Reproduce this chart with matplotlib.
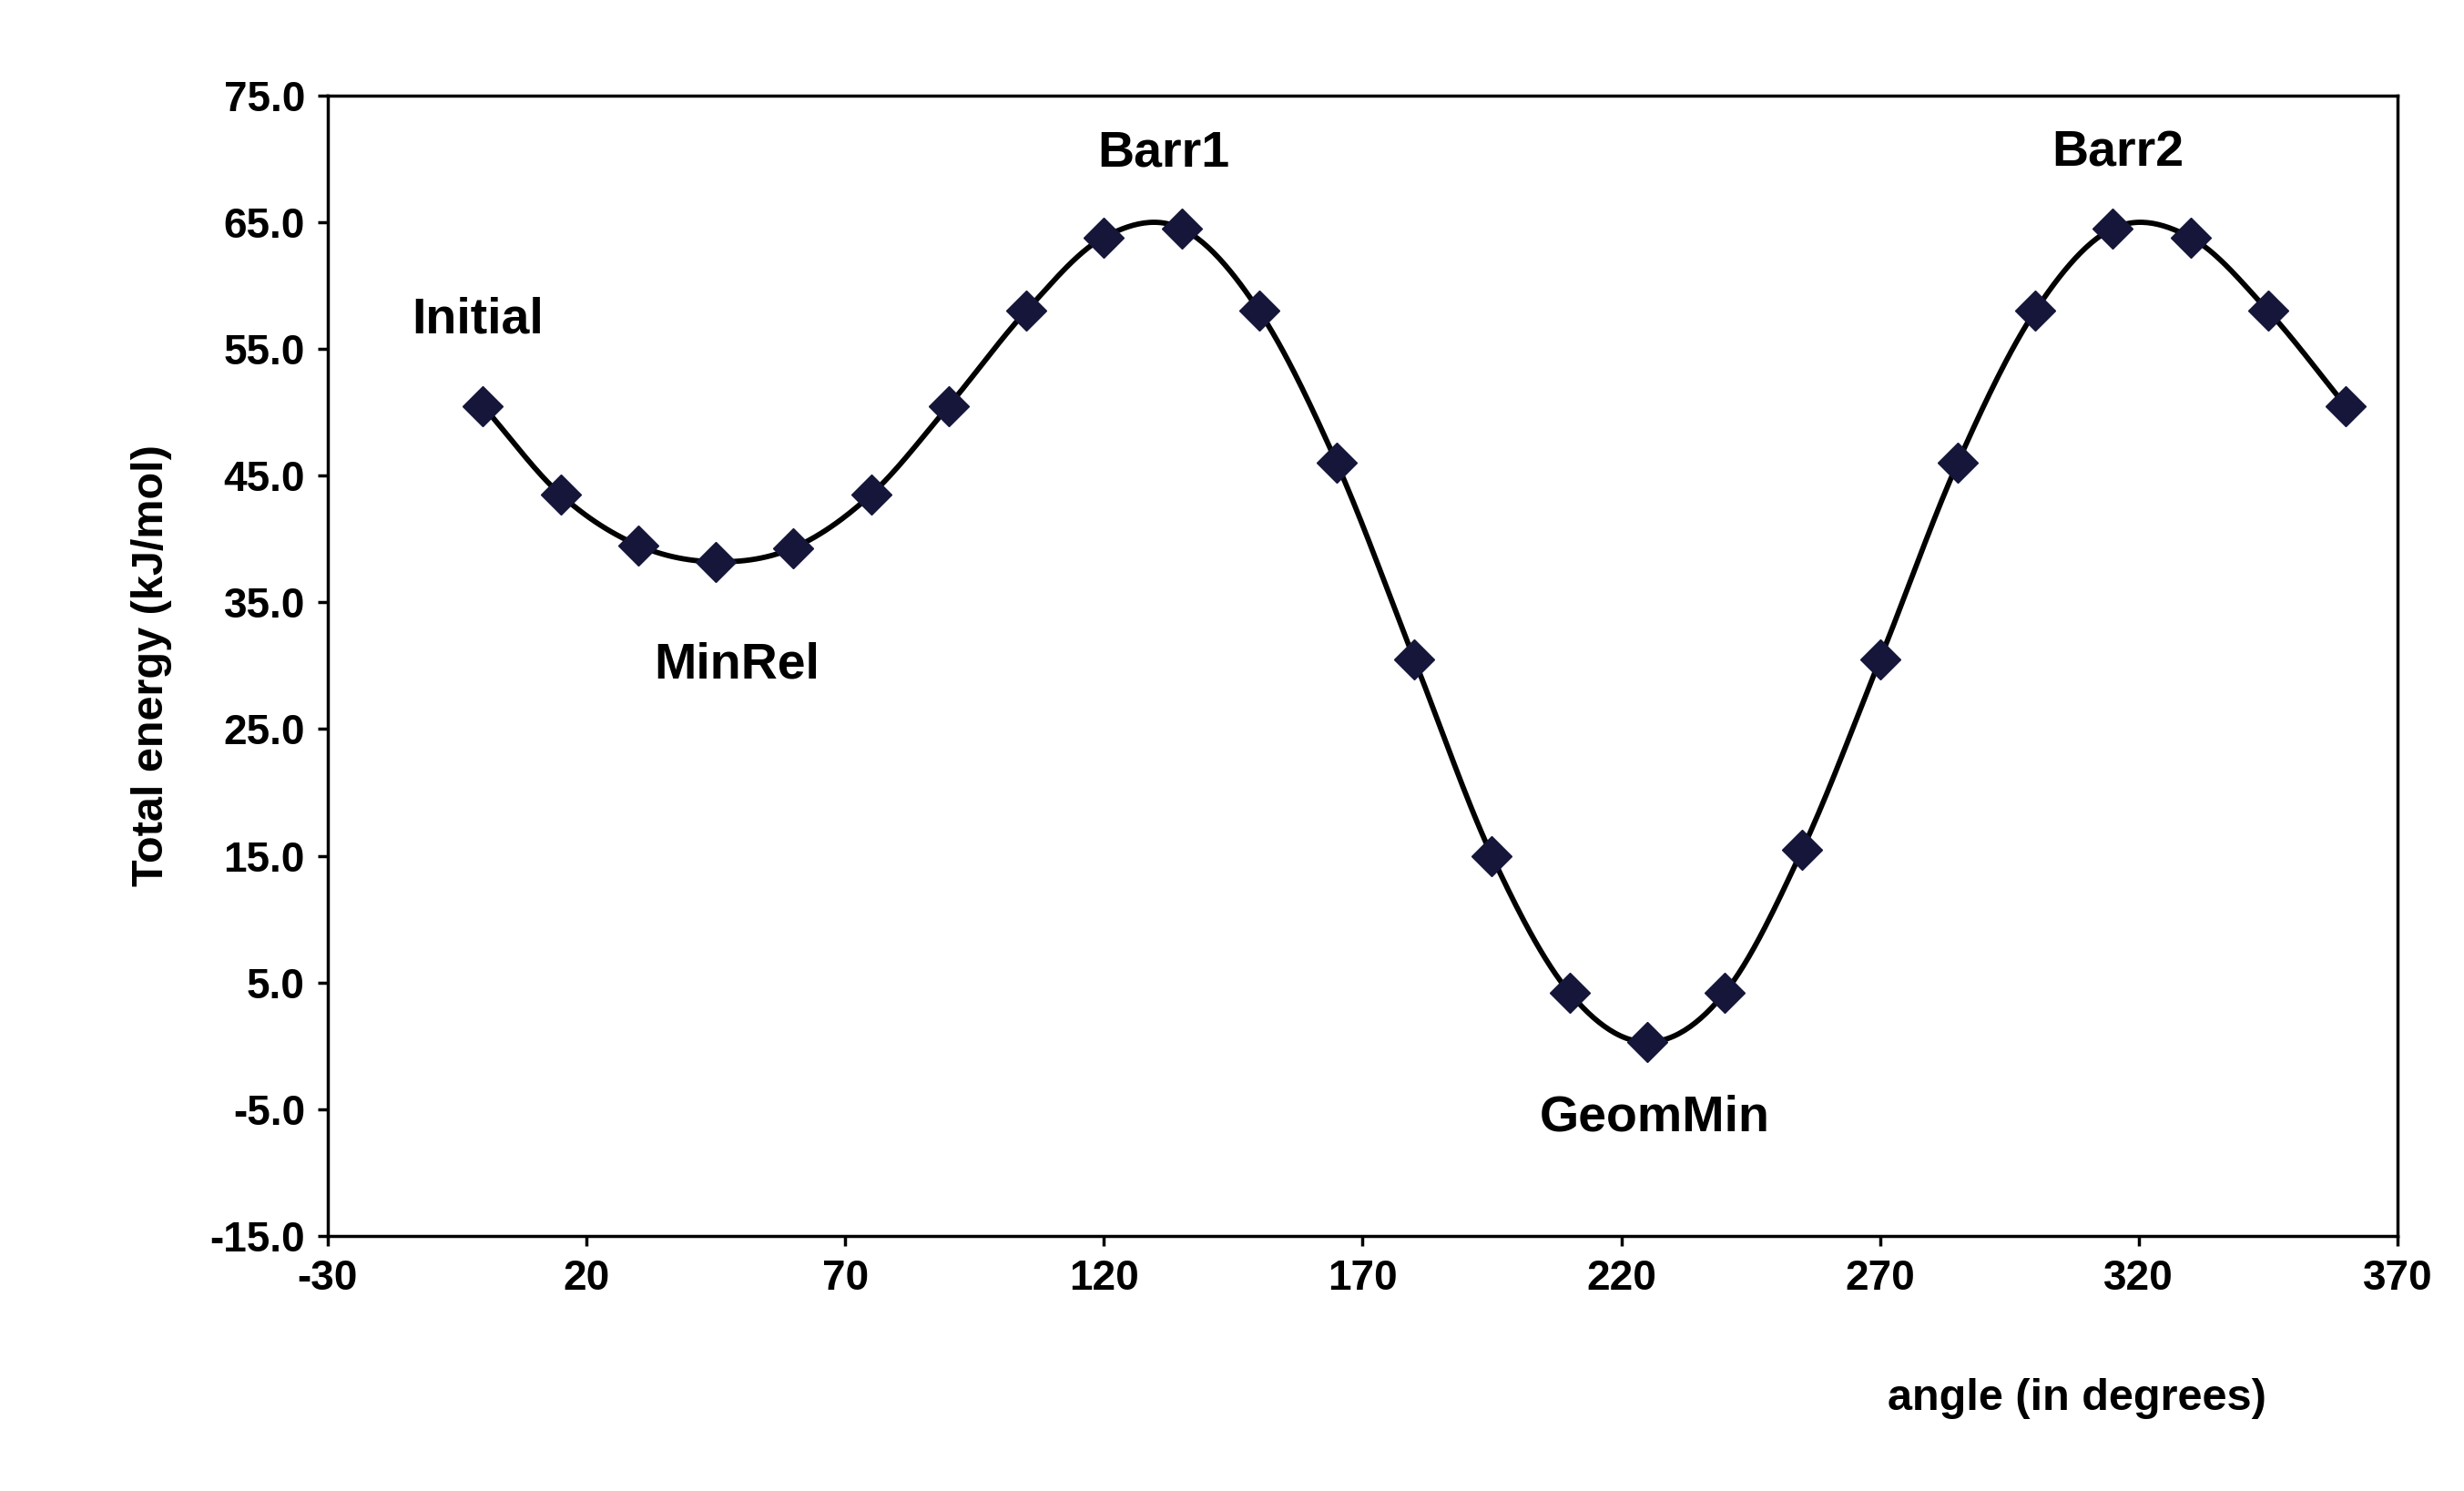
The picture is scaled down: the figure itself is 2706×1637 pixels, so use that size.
import numpy as np
import matplotlib
matplotlib.use("Agg")
import matplotlib.pyplot as plt

angles = [0, 15, 30, 45, 60, 75, 90, 105, 120, 135, 150, 165, 180, 195, 210, 225,
          240, 255, 270, 285, 300, 315, 330, 345, 360]
energy = [50.5, 43.5, 39.5, 38.2, 39.3, 43.5, 50.5, 58.0, 63.8, 64.5, 58.0, 46.0,
          30.5, 15.0, 4.2, 0.3, 4.2, 15.5, 30.5, 46.0, 58.0, 64.5, 63.8, 58.0, 50.5]
labels = ["Initial", "Barr1", "MinRel", "GeomMin", "Barr2"]
label_x = [-1, 131.5, 49, 226.5, 316]
label_y = [57.3, 70.4, 30.0, -5.7, 70.4]
xticks = list(range(-30, 371, 50))
yticks = list(range(-15, 76, 10))

plt.rcParams['font.family'] = ['Liberation Sans', 'DejaVu Sans']
plt.rcParams['font.weight'] = 'bold'

fig = plt.figure(figsize=(27.06, 16.37), dpi=100)
ax = fig.add_axes([0.133, 0.171, 0.840, 0.765])

# Catmull-Rom smoothing for the connecting line
x = np.array(angles, float); y = np.array(energy, float)
px = np.concatenate([[2*x[0]-x[1]], x, [2*x[-1]-x[-2]]])
py = np.concatenate([[2*y[0]-y[1]], y, [2*y[-1]-y[-2]]])
t = np.linspace(0, 1, 30)
sx, sy = [], []
for i in range(1, len(px)-2):
    for arr, out in ((px, sx), (py, sy)):
        p0, p1, p2, p3 = arr[i-1], arr[i], arr[i+1], arr[i+2]
        out.extend(0.5*((2*p1) + (-p0+p2)*t + (2*p0-5*p1+4*p2-p3)*t**2 + (-p0+3*p1-3*p2+p3)*t**3))
ax.plot(sx, sy, color='black', lw=4.2, zorder=2)
ax.plot(x, y, 'D', color='#15163a', markersize=22, zorder=3)

for l, lx, ly in zip(labels, label_x, label_y):
    ax.text(lx, ly, l, fontsize=40, fontweight='bold', ha='center', va='center')

ax.set_xlim(-30, 370)
ax.set_ylim(-15, 75)
ax.set_xticks(xticks)
ax.set_xticklabels([str(v) for v in xticks])
ax.set_yticks(yticks)
ax.set_yticklabels([f"{v:.1f}" for v in yticks])
ax.tick_params(labelsize=33, direction='out', length=8, width=2.5, pad=10)
for lab in ax.get_xticklabels() + ax.get_yticklabels():
    lab.set_fontweight('bold')
for s in ax.spines.values():
    s.set_linewidth(2.5)
ax.set_ylabel("Total energy (kJ/mol)", fontsize=35, fontweight='bold', labelpad=30)
fig.text(0.843, 0.062, "angle (in degrees)", fontsize=35, fontweight='bold', ha='center', va='center')

fig.savefig("out.png", dpi=100)
